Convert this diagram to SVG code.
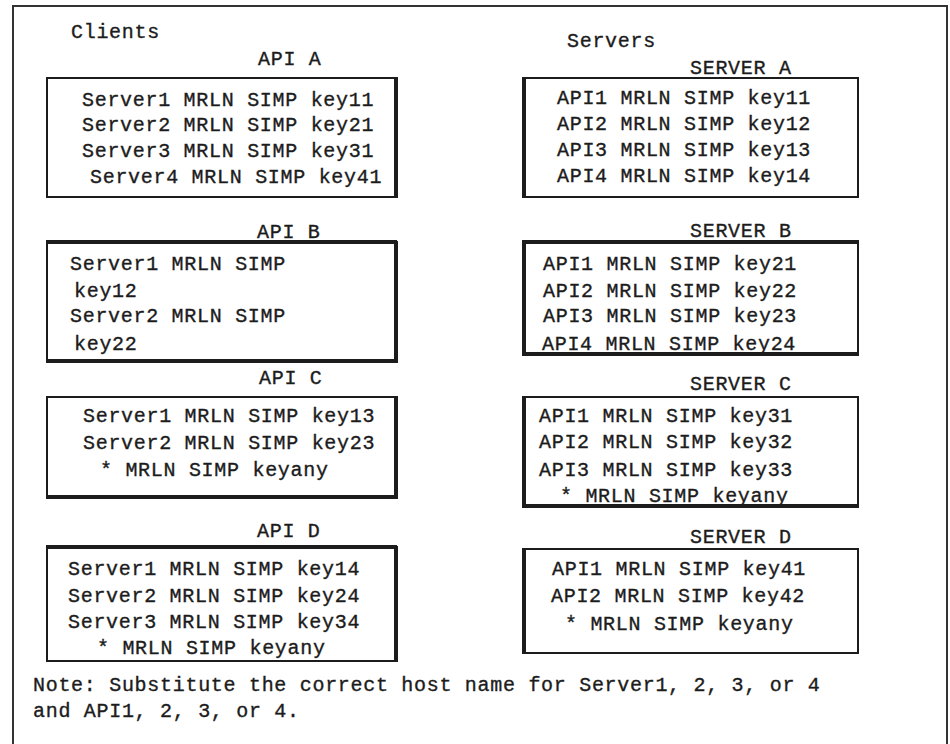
<svg xmlns="http://www.w3.org/2000/svg" width="950" height="744" viewBox="0 0 950 744">
<style>
  text { font-family: "Liberation Mono", "DejaVu Sans Mono", monospace; font-size: 20px; letter-spacing: 0.7px; fill: #1c1c1c; stroke: #1c1c1c; stroke-width: 0.35px; }
  .box { fill: #ffffff; stroke: #1c1c1c; stroke-width: 2; }
  .thick { stroke: #1c1c1c; stroke-width: 4; }
  .frame { fill: #ffffff; stroke: #333333; stroke-width: 2; }
</style>
<rect x="0" y="0" width="950" height="744" fill="#ffffff"/>
<rect class="frame" x="13" y="6" width="934" height="760"/>
<text x="71" y="38">Clients</text>
<text x="567" y="47">Servers</text>

<g id="api-a">
  <text x="258" y="65">API A</text>
  <rect class="box" x="47" y="78" width="350" height="119"/>
  <line class="thick" x1="396" y1="77" x2="396" y2="198"/>
  <text x="82" y="106">Server1 MRLN SIMP key11</text>
  <text x="82" y="131">Server2 MRLN SIMP key21</text>
  <text x="82" y="157">Server3 MRLN SIMP key31</text>
  <text x="90" y="183">Server4 MRLN SIMP key41</text>
</g>

<g id="api-b">
  <text x="257" y="238">API B</text>
  <rect class="box" x="47" y="242" width="350" height="120"/>
  <line class="thick" x1="396" y1="241" x2="396" y2="363"/>
  <line class="thick" x1="46" y1="242" x2="397" y2="242"/>
  <line class="thick" x1="46" y1="361" x2="397" y2="361"/>
  <text x="70" y="270">Server1 MRLN SIMP</text>
  <text x="74" y="297">key12</text>
  <text x="70" y="322">Server2 MRLN SIMP</text>
  <text x="74" y="350">key22</text>
</g>

<g id="api-c">
  <text x="259" y="384">API C</text>
  <rect class="box" x="47" y="397" width="350" height="101"/>
  <line class="thick" x1="396" y1="396" x2="396" y2="499"/>
  <line class="thick" x1="46" y1="497" x2="397" y2="497"/>
  <text x="83" y="422">Server1 MRLN SIMP key13</text>
  <text x="83" y="449">Server2 MRLN SIMP key23</text>
  <text x="100" y="476">* MRLN SIMP keyany</text>
</g>

<g id="api-d">
  <text x="257" y="537">API D</text>
  <rect class="box" x="47" y="547" width="350" height="114"/>
  <line class="thick" x1="396" y1="546" x2="396" y2="662"/>
  <line class="thick" x1="46" y1="547" x2="397" y2="547"/>
  <text x="68" y="575">Server1 MRLN SIMP key14</text>
  <text x="68" y="602">Server2 MRLN SIMP key24</text>
  <text x="68" y="628">Server3 MRLN SIMP key34</text>
  <text x="97" y="654">* MRLN SIMP keyany</text>
</g>

<g id="server-a">
  <text x="690" y="74">SERVER A</text>
  <rect class="box" x="523" y="78" width="335" height="119"/>
  <line class="thick" x1="524" y1="77" x2="524" y2="198"/>
  <text x="557" y="104">API1 MRLN SIMP key11</text>
  <text x="557" y="130">API2 MRLN SIMP key12</text>
  <text x="557" y="156">API3 MRLN SIMP key13</text>
  <text x="557" y="182">API4 MRLN SIMP key14</text>
</g>

<g id="server-b">
  <text x="690" y="237">SERVER B</text>
  <rect class="box" x="523" y="242" width="335" height="113"/>
  <line class="thick" x1="524" y1="241" x2="524" y2="356"/>
  <line class="thick" x1="522" y1="242" x2="859" y2="242"/>
  <line class="thick" x1="522" y1="354" x2="859" y2="354"/>
  <text x="543" y="270">API1 MRLN SIMP key21</text>
  <text x="543" y="297">API2 MRLN SIMP key22</text>
  <text x="543" y="322">API3 MRLN SIMP key23</text>
  <text x="542" y="350">API4 MRLN SIMP key24</text>
</g>

<g id="server-c">
  <text x="690" y="390">SERVER C</text>
  <rect class="box" x="523" y="397" width="335" height="110"/>
  <line class="thick" x1="524" y1="396" x2="524" y2="508"/>
  <line class="thick" x1="522" y1="506" x2="859" y2="506"/>
  <text x="539" y="422">API1 MRLN SIMP key31</text>
  <text x="539" y="448">API2 MRLN SIMP key32</text>
  <text x="539" y="476">API3 MRLN SIMP key33</text>
  <text x="560" y="502">* MRLN SIMP keyany</text>
</g>

<g id="server-d">
  <text x="690" y="543">SERVER D</text>
  <rect class="box" x="523" y="549" width="335" height="104"/>
  <line class="thick" x1="524" y1="548" x2="524" y2="654"/>
  <text x="552" y="575">API1 MRLN SIMP key41</text>
  <text x="551" y="602">API2 MRLN SIMP key42</text>
  <text x="565" y="630">* MRLN SIMP keyany</text>
</g>

<g id="connectors"></g>

<g id="note">
  <text x="33" y="691">Note: Substitute the correct host name for Server1, 2, 3, or 4</text>
  <text x="33" y="717">and API1, 2, 3, or 4.</text>
</g>
</svg>
